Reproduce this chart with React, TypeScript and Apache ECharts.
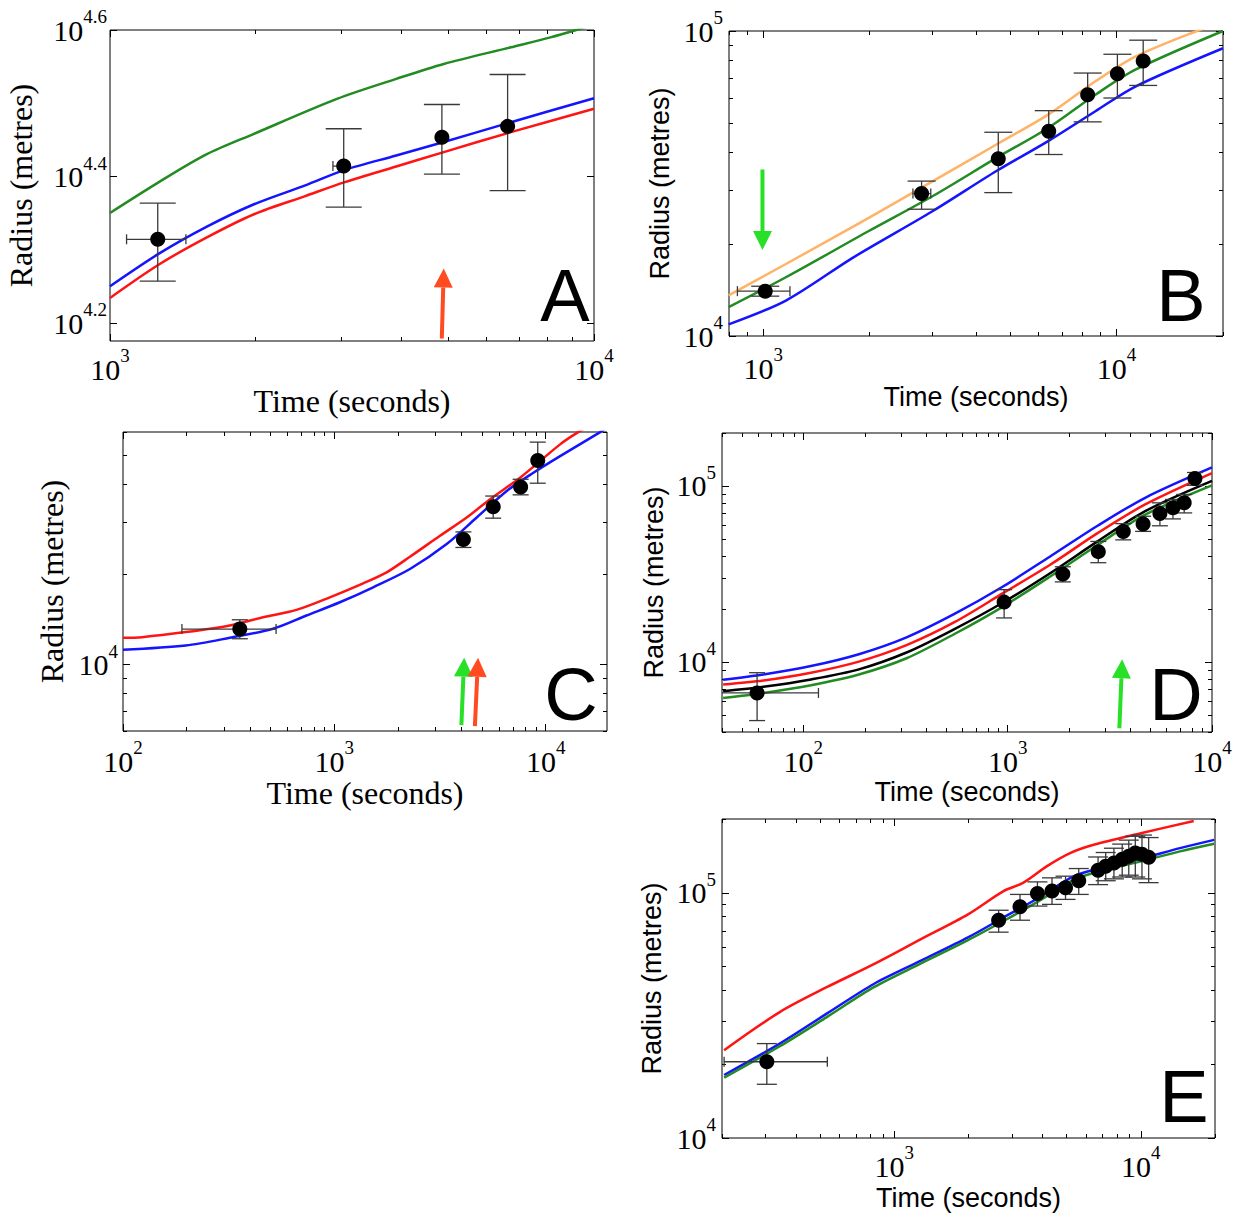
import React, { useEffect, useRef } from 'react';
import * as echarts from 'echarts';

type Pt = [number, number];
// [time, radius, radius low, radius high, time low, time high]
type Obs = [number, number, number, number, number | null, number | null];
// [time start, radius start, time tip, radius tip, colour]
type Arrow = [number, number, number, number, string];

const GREEN = '#228b22';
const BLUE = '#1414ff';
const RED = '#ff1414';
const ORANGE = '#ffb366';
const BLACK = '#000000';
const ARROW_GREEN = '#27e027';
const ARROW_RED = '#ff4b1f';
const SERIF = '"Liberation Serif", "Times New Roman", serif';
const SANS = '"Liberation Sans", Arial, sans-serif';

// ---- A ----
const aObs: Obs[] = [
  [1255, 20640, 18100, 23120, 1082, 1435],
  [3040, 25970, 22840, 29200, 2888, 3116],
  [4850, 28440, 25330, 31510, null, null],
  [6630, 29420, 24040, 34620, null, null],
];
const aGreen: Pt[] = [
  [1000, 22420], [1262, 24700], [1582, 26940], [1984, 28740], [2943, 32070],
  [3903, 34150], [4894, 35790], [6735, 37710], [8128, 38900], [9190, 39810], [10000, 40500],
];
const aBlue: Pt[] = [
  [1000, 17810], [1262, 19730], [1582, 21460], [1984, 23040], [2532, 24450],
  [3057, 25670], [3903, 26850], [4894, 28010], [6735, 29810], [10000, 32140],
];
const aRed: Pt[] = [
  [1000, 17170], [1262, 19070], [1582, 20750], [1984, 22330], [2532, 23640],
  [3057, 24700], [3903, 25940], [4894, 27140], [6735, 28890], [10000, 31090],
];
const aArrows: Arrow[] = [[4848, 15120, 4893, 18830, ARROW_RED]];
const aXTicks = [3, 4];
const aYTicks = [4.2, 4.4, 4.6];

// ---- B ----
const bObs: Obs[] = [
  [1013, 14030, 13510, 14560, 845, 1190],
  [2806, 29300, 26040, 32200, 2652, 2979],
  [4625, 38100, 29520, 46560, null, null],
  [6425, 46930, 39360, 54800, null, null],
  [8280, 61800, 50360, 72800, null, null],
  [10050, 72440, 60300, 83900, null, null],
  [11890, 79800, 66300, 93300, null, null],
];
const bOrange: Pt[] = [
  [798, 13580], [1159, 17220], [1995, 24450], [3020, 32200], [4570, 42460],
  [6400, 53200], [8710, 68400], [11300, 82400], [16870, 100000], [20000, 107000],
];
const bGreen: Pt[] = [
  [798, 12440], [1159, 15580], [1995, 22130], [3020, 28770], [4570, 38370],
  [6400, 48080], [8710, 61800], [11300, 74650], [20000, 100000],
];
const bBlue: Pt[] = [
  [798, 10920], [1159, 13070], [1800, 18110], [3020, 25700], [4570, 34750],
  [6400, 43550], [8710, 54570], [11300, 65750], [20000, 87780],
];
const bArrows: Arrow[] = [[995, 35150, 995, 19130, ARROW_GREEN]];
const bXTicks = [3, 4];
const bYTicks = [4, 5];

// ---- C ----
const cObs: Obs[] = [
  [357, 13150, 12210, 14130, 190, 530],
  [4080, 26240, 24660, 27800, null, null],
  [5645, 33720, 30900, 36640, null, null],
  [7610, 39290, 36980, 41690, null, null],
  [9170, 48200, 40450, 55500, null, null],
];
const cRed: Pt[] = [
  [100, 12300], [123, 12360], [198, 12850], [320, 13530], [460, 14410], [662, 15250],
  [952, 16800], [1369, 18710], [1767, 20360], [2279, 22960], [3161, 26980], [4229, 31050],
  [5454, 35760], [7565, 42210], [11700, 54540], [14130, 59700], [19500, 68000],
];
const cBlue: Pt[] = [
  [100, 11220], [198, 11590], [320, 12300], [513, 13180], [738, 14600], [1062, 16170],
  [1527, 18150], [2279, 20890], [3400, 25310], [4717, 31050], [6543, 38110],
  [8744, 43850], [11700, 49850], [17950, 59700], [19500, 62000],
];
const cArrows: Arrow[] = [
  [3990, 6280, 4115, 10550, ARROW_GREEN],
  [4624, 6230, 4786, 10550, ARROW_RED],
];
const cXTicks = [2, 3, 4];
const cYTicks = [4];

// ---- D ----
const dObs: Obs[] = [
  [59.4, 6670, 4645, 8690, 30, 118.6],
  [961, 21880, 17790, 25760, null, null],
  [1862, 31560, 28510, 34750, null, null],
  [2777, 42360, 36650, 48400, null, null],
  [3680, 55200, 49400, 61100, null, null],
  [4600, 60800, 55200, 67300, null, null],
  [5560, 69700, 59400, 80200, null, null],
  [6440, 75100, 65000, 83800, null, null],
  [7310, 80200, 70300, 89500, null, null],
  [8250, 110200, 100900, 119300, null, null],
];
const dTimes = [40.5, 63.8, 109, 187, 320, 549, 940, 1607, 2754, 4710, 10000];
const dBlueR = [7925, 8490, 9480, 11070, 13800, 18750, 26670, 39630, 59430, 85700, 127400];
const dRedR = [7450, 7850, 8690, 10050, 12470, 16830, 24430, 35560, 53950, 78520, 118300];
const dBlackR = [6820, 7230, 7960, 9080, 11320, 15380, 21630, 31840, 48420, 71940, 106900];
const dGreenR = [6240, 6670, 7380, 8490, 10500, 14420, 20510, 30480, 46240, 68710, 100900];
const dArrows: Arrow[] = [[3521, 4200, 3634, 10360, ARROW_GREEN]];
const dXTicks = [2, 3, 4];
const dYTicks = [4, 5];

// ---- E ----
const eObs: Obs[] = [
  [304, 20460, 16560, 24270, 204, 535],
  [2650, 77300, 69100, 84900, null, null],
  [3236, 87700, 77300, 98500, null, null],
  [3808, 99450, 88300, 110800, null, null],
  [4363, 101600, 89700, 115100, null, null],
  [4950, 104800, 94000, 116900, null, null],
  [5600, 112000, 98500, 125600, null, null],
  [6710, 123600, 108000, 140000, null, null],
  [7205, 128300, 112000, 146000, null, null],
  [7780, 132300, 114000, 152000, null, null],
  [8406, 137000, 116000, 158000, null, null],
  [8937, 140900, 118000, 164000, null, null],
  [9500, 145200, 116000, 170000, null, null],
  [10110, 143500, 114000, 172000, null, null],
  [10760, 139600, 110000, 168000, null, null],
];
const eRedT = [204, 343, 532, 826, 1283, 1991, 2773, 3330, 4150, 5165, 6440, 10000, 16400];
const eRedR = [22800, 32630, 41210, 51170, 64710, 81660, 101600, 109800, 128200, 145200, 157000, 175000, 196300];
const eModelT = [204, 343, 532, 826, 1283, 1991, 2773, 3855, 5358, 6934, 10000, 14420, 19860];
const eBlueR = [18070, 24270, 32140, 42460, 52840, 65770, 79250, 95500, 116900, 126200, 137700, 152100, 164400];
const eGreenR = [17620, 23660, 31120, 41210, 51520, 64120, 76740, 92470, 113200, 123000, 134300, 147600, 158500];
const eXTicks = [3, 4];
const eYTicks = [4, 5];

const zip = (t: number[], r: number[]): Pt[] => t.map((v, i) => [v, r[i]]);

type Panel = {
  letter: string;
  box: [number, number, number, number];
  xRange: [number, number];
  yRange: [number, number];
  xTicks: number[];
  yTicks: number[];
  yMinor: boolean;
  obs: Obs[];
  curves: [Pt[], string][];
  arrows: Arrow[];
  titleFont: string;
  titleSize: number;
  xGap: number;
  yGap: number;
  xMargin: number;
  yMargin: number;
  cap: number;
  letterAt: [number, number];
};

const panels: Panel[] = [
  {
    letter: 'A', box: [110, 30, 484, 311], xRange: [1000, 10000], yRange: [15000, 39811],
    xTicks: aXTicks, yTicks: aYTicks, yMinor: false, obs: aObs,
    curves: [[aGreen, GREEN], [aBlue, BLUE], [aRed, RED]], arrows: aArrows,
    titleFont: SERIF, titleSize: 32, xGap: 41, yGap: 73, xMargin: 5, yMargin: 3, cap: 18, letterAt: [565, 295],
  },
  {
    letter: 'B', box: [729, 31, 494, 305], xRange: [800, 20000], yRange: [10000, 100000],
    xTicks: bXTicks, yTicks: bYTicks, yMinor: true, obs: bObs,
    curves: [[bOrange, ORANGE], [bGreen, GREEN], [bBlue, BLUE]], arrows: bArrows,
    titleFont: SANS, titleSize: 27, xGap: 44, yGap: 56, xMargin: 9, yMargin: 6, cap: 14, letterAt: [1181, 295],
  },
  {
    letter: 'C', box: [123, 432, 484, 299], xRange: [100, 19500], yRange: [6000, 60000],
    xTicks: cXTicks, yTicks: cYTicks, yMinor: true, obs: cObs,
    curves: [[cRed, RED], [cBlue, BLUE]], arrows: cArrows,
    titleFont: SERIF, titleSize: 32, xGap: 41, yGap: 55, xMargin: 7, yMargin: 5, cap: 8, letterAt: [571, 694],
  },
  {
    letter: 'D', box: [722, 433, 490, 299], xRange: [40, 10000], yRange: [4000, 200000],
    xTicks: dXTicks, yTicks: dYTicks, yMinor: true, obs: dObs,
    curves: [[zip(dTimes, dBlueR), BLUE], [zip(dTimes, dRedR), RED], [zip(dTimes, dBlackR), BLACK], [zip(dTimes, dGreenR), GREEN]],
    arrows: dArrows,
    titleFont: SANS, titleSize: 27, xGap: 46, yGap: 55, xMargin: 6, yMargin: 6, cap: 8, letterAt: [1176, 694],
  },
  {
    letter: 'E', box: [722, 819, 493, 319], xRange: [200, 20000], yRange: [10000, 200000],
    xTicks: eXTicks, yTicks: eYTicks, yMinor: true, obs: eObs,
    curves: [[zip(eRedT, eRedR), RED], [zip(eModelT, eBlueR), BLUE], [zip(eModelT, eGreenR), GREEN]],
    arrows: [],
    titleFont: SANS, titleSize: 27, xGap: 46, yGap: 57, xMargin: 5, yMargin: 6, cap: 10, letterAt: [1184, 1096],
  },
];

const lg = Math.log10;

// minor ticks at 2..9 times each decade inside [lo, hi] (log units)
function minorTicks(lo: number, hi: number): number[] {
  const out: number[] = [];
  for (let e = Math.floor(lo); e <= Math.ceil(hi); e++) {
    for (let k = 2; k <= 9; k++) {
      const v = e + lg(k);
      if (v >= lo - 1e-9 && v <= hi + 1e-9) out.push(v);
    }
  }
  return out;
}

const expLabel = (v: number) => {
  const r = Math.round(v * 10) / 10;
  return `{b|10}{s|${Number.isInteger(r) ? r : r.toFixed(1)}}`;
};

// superscript sits on top of the "10"
const labelRich = {
  b: { fontFamily: SERIF, fontSize: 30, lineHeight: 46, color: '#000' },
  s: { fontFamily: SERIF, fontSize: 19, lineHeight: 18, verticalAlign: 'top', color: '#000' },
};

function axisPair(gi: number, pos: string, range: number[], majors: number[], minors: number[], extra: any) {
  const base: any = {
    type: 'value', gridIndex: gi, position: pos, min: range[0], max: range[1],
    axisLine: { show: false }, splitLine: { show: false }, axisLabel: { show: false },
  };
  const tickStyle = { color: '#000', width: 1 };
  return [
    {
      ...base,
      axisTick: { show: true, inside: true, length: 7, customValues: majors, lineStyle: tickStyle },
      ...extra,
    },
    {
      ...base,
      axisTick: { show: minors.length > 0, inside: true, length: 4, customValues: minors, lineStyle: tickStyle },
    },
  ];
}

function buildOption() {
  const grid: any[] = [];
  const xAxis: any[] = [];
  const yAxis: any[] = [];
  const series: any[] = [];
  const graphic: any[] = [];

  panels.forEach((p, i) => {
    const xr = [lg(p.xRange[0]), lg(p.xRange[1])];
    const yr = [lg(p.yRange[0]), lg(p.yRange[1])];
    grid.push({
      left: p.box[0], top: p.box[1], width: p.box[2], height: p.box[3],
      show: true, borderColor: '#000', borderWidth: 1, backgroundColor: '#fff',
    });
    const xMin = minorTicks(xr[0], xr[1]);
    const yMin = p.yMinor ? minorTicks(yr[0], yr[1]) : [];
    const nameStyle = { fontFamily: p.titleFont, fontSize: p.titleSize, color: '#000' };

    xAxis.push(
      ...axisPair(i, 'bottom', xr, p.xTicks, xMin, {
        axisLabel: { show: true, customValues: p.xTicks, formatter: expLabel, rich: labelRich, margin: p.xMargin },
        name: 'Time (seconds)', nameLocation: 'middle', nameGap: p.xGap, nameTextStyle: nameStyle,
      }),
      ...axisPair(i, 'top', xr, p.xTicks, xMin, {}),
    );
    yAxis.push(
      ...axisPair(i, 'left', yr, p.yTicks, yMin, {
        axisLabel: { show: true, customValues: p.yTicks, formatter: expLabel, rich: labelRich, margin: p.yMargin },
        name: 'Radius (metres)', nameLocation: 'middle', nameGap: p.yGap, nameTextStyle: nameStyle,
      }),
      ...axisPair(i, 'right', yr, p.yTicks, yMin, {}),
    );

    const ax = { xAxisIndex: i * 4, yAxisIndex: i * 4 };

    p.curves.forEach(([pts, color]) => {
      series.push({
        type: 'line', ...ax, data: pts.map(([t, r]) => [lg(t), lg(r)]),
        showSymbol: false, smooth: 0.3, clip: true, silent: true, z: 2,
        lineStyle: { width: 2.5, color }, itemStyle: { color },
      });
    });

    const cap = p.cap;
    series.push({
      type: 'custom', ...ax, clip: true, silent: true, z: 3,
      data: p.obs.map((o) => [
        lg(o[0]), lg(o[1]), lg(o[2]), lg(o[3]),
        o[4] == null ? lg(o[0]) : lg(o[4]), o[5] == null ? lg(o[0]) : lg(o[5]),
      ]),
      renderItem: (_params: any, api: any) => {
        const x = api.value(0);
        const y = api.value(1);
        const lo = api.coord([x, api.value(2)]);
        const hi = api.coord([x, api.value(3)]);
        const style = { stroke: '#3a3a3a', lineWidth: 1.3 };
        const seg = (x1: number, y1: number, x2: number, y2: number) => ({ type: 'line', shape: { x1, y1, x2, y2 }, style });
        const children: any[] = [
          seg(lo[0], lo[1], hi[0], hi[1]),
          seg(lo[0] - cap, lo[1], lo[0] + cap, lo[1]),
          seg(hi[0] - cap, hi[1], hi[0] + cap, hi[1]),
        ];
        const xl = api.value(4);
        const xh = api.value(5);
        if (xl !== xh) {
          const l = api.coord([xl, y]);
          const h = api.coord([xh, y]);
          children.push(seg(l[0], l[1], h[0], h[1]), seg(l[0], l[1] - 5, l[0], l[1] + 5), seg(h[0], h[1] - 5, h[0], h[1] + 5));
        }
        return { type: 'group', children };
      },
    });

    series.push({
      type: 'scatter', ...ax, data: p.obs.map((o) => [lg(o[0]), lg(o[1])]),
      symbol: 'circle', symbolSize: 15, itemStyle: { color: '#000', opacity: 1 }, silent: true, z: 4,
    });

    if (p.arrows.length) {
      series.push({
        type: 'custom', ...ax, clip: false, silent: true, z: 5,
        data: p.arrows.map((a) => ({ value: [lg(a[0]), lg(a[1]), lg(a[2]), lg(a[3])], itemStyle: { color: a[4] } })),
        renderItem: (_params: any, api: any) => {
          const p0 = api.coord([api.value(0), api.value(1)]);
          const p1 = api.coord([api.value(2), api.value(3)]);
          const color = api.visual('color');
          const dx = p1[0] - p0[0];
          const dy = p1[1] - p0[1];
          const len = Math.hypot(dx, dy) || 1;
          const ux = dx / len;
          const uy = dy / len;
          const L = 19;
          const W = 9.5;
          const bx = p1[0] - ux * L;
          const by = p1[1] - uy * L;
          return {
            type: 'group',
            children: [
              { type: 'line', shape: { x1: p0[0], y1: p0[1], x2: bx, y2: by }, style: { stroke: color, lineWidth: 4 } },
              {
                type: 'polygon',
                shape: { points: [[p1[0], p1[1]], [bx - uy * W, by + ux * W], [bx + uy * W, by - ux * W]] },
                style: { fill: color },
              },
            ],
          };
        },
      });
    }

    graphic.push({
      type: 'text', x: p.letterAt[0], y: p.letterAt[1], z: 10,
      style: { text: p.letter, fontFamily: SANS, fontSize: 74, fill: '#000', align: 'center', verticalAlign: 'middle' },
    });
  });

  return { animation: false, backgroundColor: '#fff', grid, xAxis, yAxis, series, graphic };
}

export default function App() {
  const ref = useRef<HTMLDivElement | null>(null);

  useEffect(() => {
    if (!ref.current) return;
    const chart = echarts.init(ref.current, undefined, { renderer: 'svg' });
    chart.setOption(buildOption() as any);
    return () => chart.dispose();
  }, []);

  return <div ref={ref} style={{ position: 'fixed', left: 0, top: 0, width: 1239, height: 1216, background: '#fff' }} />;
}
